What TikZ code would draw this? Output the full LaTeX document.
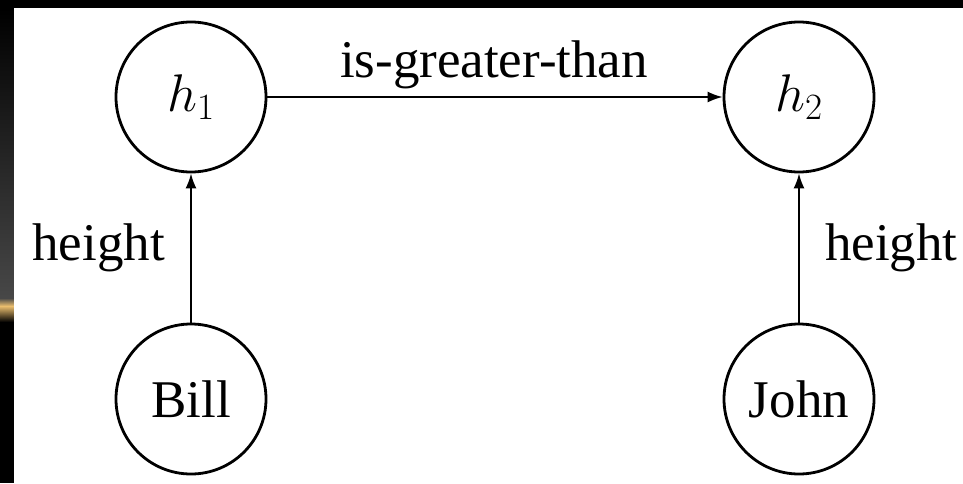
\RequirePackage{fix-cm}
\documentclass[tikz,border=0pt]{standalone}
\usepackage{fontspec}
\setmainfont{Liberation Serif}
\usetikzlibrary{arrows.meta}
\definecolor{gold}{RGB}{235,190,110}
\begin{document}
\begin{tikzpicture}[x=1pt,y=-1pt,
  every node/.style={font=\fontsize{53}{60}\selectfont},
  ent/.style={draw=black,line width=2.8pt,circle,minimum size=150pt,inner sep=0pt},
  rel/.style={line width=1.8pt,-{Latex[length=15pt,width=11pt]}},
  lbl/.style={inner sep=0pt}]
\useasboundingbox (0,0) rectangle (963,483);
\fill[black] (0,0) rectangle (963,483);
\shade[top color=black,bottom color=black!72] (0,8) rectangle (14,298);
\shade[top color=black!72,bottom color=gold] (0,298) rectangle (14,306);
\shade[top color=gold,bottom color=black] (0,306) rectangle (14,322);
\fill[white] (14,8) rectangle (963,483);
\node[ent] (h1) at (191,97) {$h_1$};
\node[ent] (h2) at (799,97) {$h_2$};
\node[ent] (bill) at (191,399) {Bill};
\node[ent] (john) at (799,399) {John};
\draw[rel] (h1) -- (h2);
\draw[rel] (bill) -- (h1);
\draw[rel] (john) -- (h2);
\node[lbl,anchor=base] (t1) at (494,77) {is-greater-than};
\node[lbl,anchor=base east] (t2) at (165,260) {height};
\node[lbl,anchor=base west] (t3) at (825,260) {height};
\end{tikzpicture}
\end{document}
